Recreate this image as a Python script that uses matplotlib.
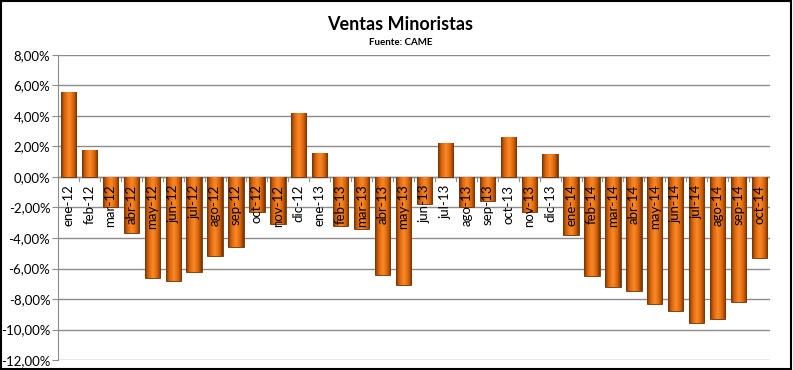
import matplotlib.pyplot as plt
import matplotlib as mpl
from matplotlib.ticker import FuncFormatter
from matplotlib.colors import LinearSegmentedColormap
import numpy as np

mpl.rcParams.update({'font.family': ['Lato', 'DejaVu Sans']})

months = ['ene-12','feb-12','mar-12','abr-12','may-12','jun-12','jul-12','ago-12','sep-12','oct-12','nov-12','dic-12',
          'ene-13','feb-13','mar-13','abr-13','may-13','jun-13','jul-13','ago-13','sep-13','oct-13','nov-13','dic-13',
          'ene-14','feb-14','mar-14','abr-14','may-14','jun-14','jul-14','ago-14','sep-14','oct-14']
ventas = [5.6, 1.8, -2.0, -3.7, -6.6, -6.8, -6.2, -5.2, -4.6, -2.3, -3.1, 4.2,
          1.6, -3.2, -3.4, -6.4, -7.1, -1.8, 2.2, -2.0, -1.6, 2.6, -2.3, 1.5,
          -3.8, -6.5, -7.2, -7.5, -8.3, -8.8, -9.6, -9.3, -8.2, -5.3]
yticks = [8, 6, 4, 2, 0, -2, -4, -6, -8, -10, -12]

GRID = '#8C8C8C'
bevel = LinearSegmentedColormap.from_list('bevel', ['#6E3306', '#C85A08', '#EC7414', '#F58A2C', '#EC7414', '#C85A08', '#6E3306'])
grad = np.linspace(0, 1, 64).reshape(1, -1)

fig = plt.figure(figsize=(7.93, 3.70), dpi=100)
fig.patch.set_facecolor('white')
ax = fig.add_axes([0.0731, 0.027, 0.8979, 0.8244])
x = np.arange(len(months))
w = 0.73
bars = ax.bar(x, ventas, width=w, color='#E8700F', edgecolor='#6E3306', linewidth=0.6, zorder=3)
for b in bars:
    bx, by = b.get_x(), b.get_y()
    bw, bh = b.get_width(), b.get_height()
    im = ax.imshow(grad, cmap=bevel, aspect='auto', extent=(bx, bx + bw, by, by + bh),
                   origin='lower', zorder=3.2, interpolation='bilinear')
    im.set_clip_path(b)

ax.set_xlim(-0.5, len(months) - 0.5)
ax.set_ylim(-12, 8)
ax.set_yticks(yticks)
ax.yaxis.set_major_formatter(FuncFormatter(lambda v, p: f'{v:.2f}%'.replace('.', ',')))
ax.tick_params(axis='y', labelsize=9.5, length=4, color=GRID, pad=1.5)
ax.grid(axis='y', color=GRID, lw=1, zorder=0)
for s in ['top', 'right', 'bottom']:
    ax.spines[s].set_visible(False)
ax.spines['left'].set_color(GRID)
ax.axhline(0, color=GRID, lw=1, zorder=2)

ax.set_xticks([])
for xi in np.arange(-0.5, len(months), 1):
    ax.plot([xi, xi], [0, -0.25], color=GRID, lw=0.8, zorder=2)
for xi, lab in zip(x, months):
    ax.text(xi, -0.5, lab, rotation=90, ha='center', va='top', fontsize=9.5, color='black', zorder=4)

fig.text(0.505, 0.935, 'Ventas Minoristas', ha='center', va='center', fontsize=13, fontweight='bold')
fig.text(0.505, 0.885, 'Fuente: CAME', ha='center', va='center', fontsize=7, fontweight='bold')

fig.add_artist(plt.Rectangle((0.001, 0.002), 0.997, 0.995, transform=fig.transFigure,
                             fill=False, edgecolor='black', lw=1.5))

fig.savefig('out.png', dpi=100, facecolor='white')
